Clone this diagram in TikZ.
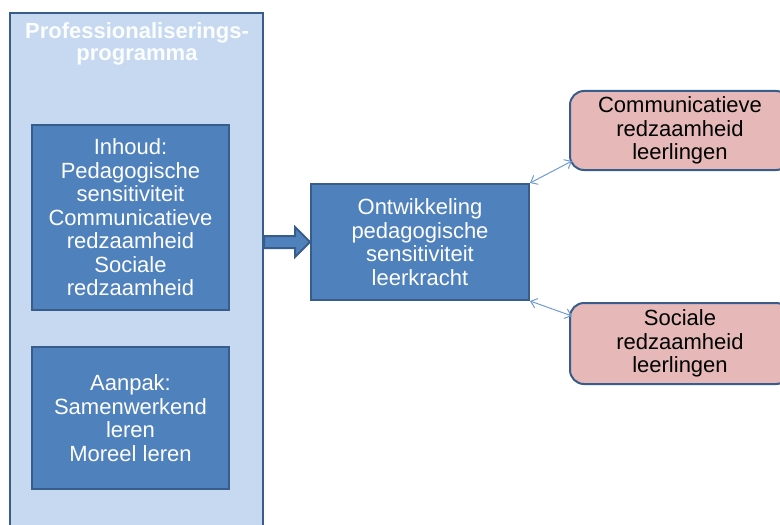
\documentclass[tikz,border=0pt]{standalone}
\usepackage{fontspec}
\setmainfont{Liberation Sans}
\usepackage{xcolor}
\usepackage{tikz}
\usetikzlibrary{arrows.meta,calc}

\definecolor{boxblue}{HTML}{4F81BD}
\definecolor{edgeblue}{HTML}{385D8A}
\definecolor{paleblue}{HTML}{C6D9F1}
\definecolor{rose}{HTML}{E6B9B8}
\definecolor{linkblue}{HTML}{6F9BD4}
\newdimen\px \px=0.75pt

\begin{document}
\begin{tikzpicture}[x=\px,y=-\px,
		txt/.style={font=\fontsize{16.5}{17.6}\selectfont, align=center, inner sep=0pt},
		progbox/.style={draw=edgeblue, line width=2\px, fill=paleblue, inner sep=0pt},
		part/.style={txt, draw=edgeblue, line width=2\px, fill=boxblue, text=white},
		pupil/.style={txt, draw=edgeblue, line width=2\px, fill=rose, text=black, rounded corners=14\px},
		link/.style={linkblue, line width=0.75pt, {Straight Barb[length=4.5pt,width=7.5pt]}-{Straight Barb[length=4.5pt,width=7.5pt]}},
		bigarrow/.style={draw=edgeblue, line width=2\px, fill=boxblue}]
		\clip (0,0) rectangle (780,524);
		
		% programma
		\node[progbox, minimum width=253\px, minimum height=540\px] (prog) at (136.5,283) {};
		\node[txt, font=\fontsize{16.5}{16.5}\selectfont\bfseries, text=white!95!paleblue] (title) at (137,44) {Professionaliserings-\\programma};
		\node[part, minimum width=197\px, minimum height=185\px] (inhoud) at (130.5,217.5) {Inhoud:\\Pedagogische\\sensitiviteit\\Communicatieve\\redzaamheid\\Sociale\\redzaamheid};
		\node[part, minimum width=197\px, minimum height=142\px] (aanpak) at (130.5,418) {Aanpak:\\Samenwerkend\\leren\\Moreel leren};
		
		% leerkracht
		\node[part, minimum width=218\px, minimum height=116\px] (mid) at (420,242) {Ontwikkeling\\pedagogische\\sensitiviteit\\leerkracht};
		
		% leerlingen
		\node[pupil, minimum width=220\px, minimum height=79\px] (comm) at (680,130.5) {Communicatieve\\redzaamheid\\leerlingen};
		\node[pupil, minimum width=220\px, minimum height=81\px] (soc) at (680,343.5) {Sociale\\redzaamheid\\leerlingen};
		
		\coordinate (s) at (prog.east |- mid.west);
		\draw[bigarrow] ($(s)+(0,-6)$) -- ($(mid.west)+(-15,-6)$) -- ($(mid.west)+(-15,-15)$) -- (mid.west)
			-- ($(mid.west)+(-15,15)$) -- ($(mid.west)+(-15,6)$) -- ($(s)+(0,6)$) -- cycle;
		
		\draw[link] (mid.north east) -- ($(comm.south west)+(3,-10)$);
		\draw[link] (mid.south east) -- ($(soc.north west)+(3,14)$);
	\end{tikzpicture}
\end{document}
